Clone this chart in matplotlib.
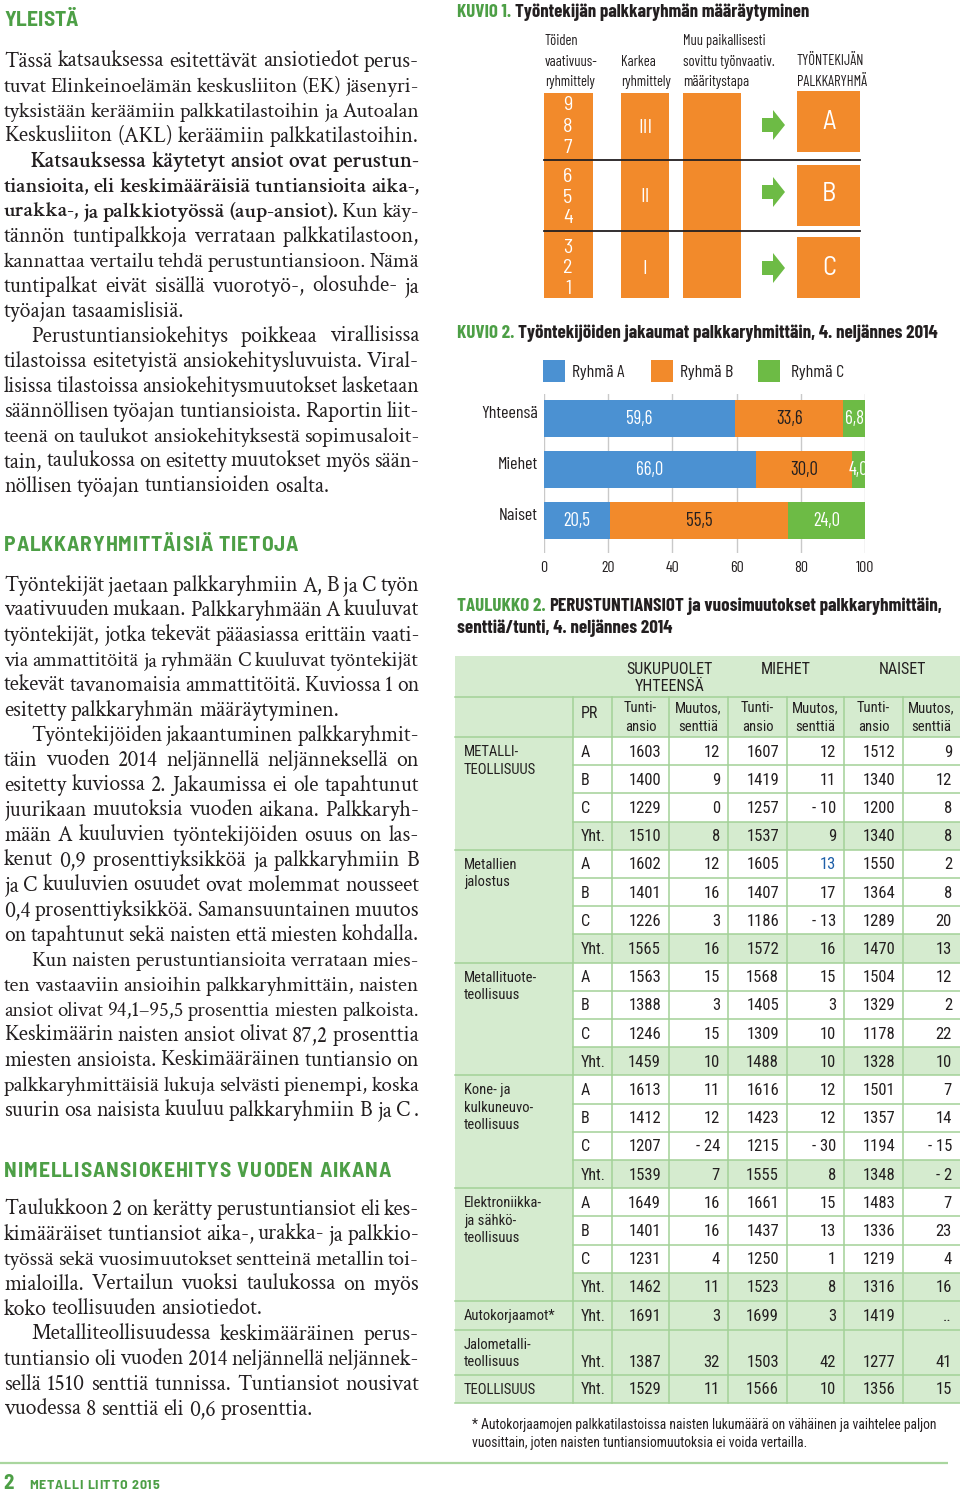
import matplotlib
matplotlib.use("Agg")
import matplotlib.pyplot as plt
from matplotlib.patches import Rectangle, Polygon
from matplotlib.transforms import ScaledTranslation
from matplotlib import font_manager as fm

# ---------------------------------------------------------------- data
kuvio2_categories = ["Yhteensä", "Miehet", "Naiset"]
kuvio2_series = ["Ryhmä A", "Ryhmä B", "Ryhmä C"]
ryhma_a = [59.6, 66.0, 20.5]
ryhma_b = [33.6, 30.0, 55.5]
ryhma_c = [6.8, 4.0, 24.0]
kuvio2_ticks = [0, 20, 40, 60, 80, 100]

vaativuus = [["9", "8", "7"], ["6", "5", "4"], ["3", "2", "1"]]
karkea = ["III", "II", "I"]
palkkaryhma = ["A", "B", "C"]

table_groups = ["METALLI-\nTEOLLISUUS", "Metallien\njalostus", "Metallituote-\nteollisuus",
                "Kone- ja\nkulkuneuvo-\nteollisuus", "Elektroniikka-\nja sähkö-\nteollisuus",
                "Autokorjaamot*", "Jalometalli-\nteollisuus", "TEOLLISUUS"]
table_group_rows = [4, 4, 4, 4, 4, 1, 1, 1]
table_pr = ["A", "B", "C", "Yht."] * 5 + ["Yht.", "Yht.", "Yht."]
tunti_yht = [1603, 1400, 1229, 1510, 1602, 1401, 1226, 1565, 1563, 1388, 1246, 1459,
             1613, 1412, 1207, 1539, 1649, 1401, 1231, 1462, 1691, 1387, 1529]
muutos_yht = [12, 9, 0, 8, 12, 16, 3, 16, 15, 3, 15, 10,
              11, 12, -24, 7, 16, 16, 4, 11, 3, 32, 11]
tunti_miehet = [1607, 1419, 1257, 1537, 1605, 1407, 1186, 1572, 1568, 1405, 1309, 1488,
                1616, 1423, 1215, 1555, 1661, 1437, 1250, 1523, 1699, 1503, 1566]
muutos_miehet = [12, 11, -10, 9, 13, 17, -13, 16, 15, 3, 10, 10,
                 12, 12, -30, 8, 15, 13, 1, 8, 3, 42, 10]
tunti_naiset = [1512, 1340, 1200, 1340, 1550, 1364, 1289, 1470, 1504, 1329, 1178, 1328,
                1501, 1357, 1194, 1348, 1483, 1336, 1219, 1316, 1419, 1277, 1356]
muutos_naiset = [9, 12, 8, 8, 2, 8, 20, 13, 12, 2, 22, 10,
                 7, 14, -15, -2, 7, 23, 4, 16, None, 41, 15]
table_header_top = ["SUKUPUOLET\nYHTEENSÄ", "MIEHET", "NAISET"]
table_header_sub = ["Tunti-\nansio", "Muutos,\nsenttiä"]

# ---------------------------------------------------------------- fonts / colours
_names = {f.name for f in fm.fontManager.ttflist}


def pick(cands):
    for c in cands:
        if c in _names:
            return c
    return "DejaVu Sans"


SERIF = pick(["Crimson Text", "Crimson Pro", "Liberation Serif"])
COND = pick(["Roboto Condensed", "Liberation Sans"])
DIN = pick(["Barlow Condensed", "Roboto Condensed", "Liberation Sans"])
SEMI = pick(["Barlow Semi Condensed", "Barlow Condensed", "Roboto Condensed"])

INK = "#231f20"
GREEN_TXT = "#4d9f46"
BLUE = "#4b91d2"
ORANGE = "#f28a2b"
GREEN = "#6dbb45"
LIGHT = "#d5ebcf"
GRIDG = "#a3d197"

# ---------------------------------------------------------------- page
fig = plt.figure(figsize=(9.6, 14.94), dpi=100)
page = fig.add_axes([0, 0, 1, 1])
page.set_xlim(0, 960)
page.set_ylim(1494, 0)
page.axis("off")
R = fig.canvas.get_renderer()


def T(x, y, s, size, family=COND, weight="normal", color=INK, ha="left", va="baseline", **kw):
    return page.text(x, y, s, fontsize=size, family=family, fontweight=weight,
                     color=color, ha=ha, va=va, **kw)


def W(s, size, family=COND, weight="normal"):
    t = T(0, 0, s, size, family, weight)
    w = t.get_window_extent(R).width
    t.remove()
    return w


def space_w(size, family, weight="normal"):
    return W("n n", size, family, weight) - W("nn", size, family, weight)


def spread(x0, x1, yb, s, size, family, weight, color):
    sp = space_w(size, family, weight)
    ws = [sp if c == " " else W(c, size, family, weight) for c in s]
    extra = (x1 - x0 - sum(ws)) / (len(s) - 1)
    x = x0
    for c, w in zip(s, ws):
        if c != " ":
            T(x, yb, c, size, family, weight, color)
        x += w + extra


def runs(x0, yb, parts, size, family, weight="bold", target=None):
    full = " ".join(p[0] for p in parts)
    if target is not None:
        size = size * target / W(full, size, family, weight)
    sp = space_w(size, family, weight)
    x = x0
    for text, color in parts:
        T(x, yb, text, size, family, weight, color)
        x += W(text, size, family, weight) + sp
    return size


# ---------------------------------------------------------------- left column text
BODY = 15.8
LEFT, RIGHT = 4, 419
INDENT = 27
BOLDW = 600


def measure_words(words, size):
    info = []
    for w in words:
        bold = w.startswith("^")
        w2 = w.lstrip("^")
        info.append((w2, bold, W(w2, size, SERIF, BOLDW if bold else "normal")))
    return info


def body_line(yb, line, justify, indent):
    words = line.split()
    x0 = LEFT + indent
    size = BODY
    info = measure_words(words, size)
    sp = space_w(size, SERIF)
    natural = sum(i[2] for i in info) + (len(words) - 1) * sp * 0.8
    if natural > RIGHT - x0:
        size = size * (RIGHT - x0) / natural
        info = measure_words(words, size)
        sp = space_w(size, SERIF)
    if justify and len(words) > 1:
        gap = (RIGHT - x0 - sum(i[2] for i in info)) / (len(words) - 1)
    else:
        gap = sp
    x = x0
    for w2, bold, wd in info:
        T(x, yb, w2, size, SERIF, BOLDW if bold else "normal", INK)
        x += wd + gap


def paragraph(yb, indent, lines, last_justify=False):
    for i, ln in enumerate(lines):
        last = i == len(lines) - 1
        body_line(yb + 25 * i, ln, (not last) or last_justify, INDENT if (indent and i == 0) else 0)


HEAD = 15.5
spread(4, 78, 26, "YLEISTÄ", HEAD, SEMI, "bold", GREEN_TXT)
paragraph(67, False, [
    "Tässä katsauksessa esitettävät ansiotiedot perus-",
    "tuvat Elinkeinoelämän keskusliiton (EK) jäsenyri-",
    "tyksistään keräämiin palkkatilastoihin ja Autoalan",
    "Keskusliiton (AKL) keräämiin palkkatilastoihin."], True)
paragraph(167, True, [
    "^Katsauksessa ^käytetyt ^ansiot ^ovat ^perustun-",
    "^tiansioita, ^eli ^keskimääräisiä ^tuntiansioita ^aika-,",
    "^urakka-, ^ja ^palkkiotyössä ^(aup-ansiot). Kun käy-",
    "tännön tuntipalkkoja verrataan palkkatilastoon,",
    "kannattaa vertailu tehdä perustuntiansioon. Nämä",
    "tuntipalkat eivät sisällä vuorotyö-, olosuhde- ja",
    "työajan tasaamislisiä."])
paragraph(342, True, [
    "Perustuntiansiokehitys poikkeaa virallisissa",
    "tilastoissa esitetyistä ansiokehitysluvuista. Viral-",
    "lisissa tilastoissa ansiokehitysmuutokset lasketaan",
    "säännöllisen työajan tuntiansioista. Raportin liit-",
    "teenä on taulukot ansiokehityksestä sopimusaloit-",
    "tain, taulukossa on esitetty muutokset myös sään-",
    "nöllisen työajan tuntiansioiden osalta."])

spread(4, 298, 551, "PALKKARYHMITTÄISIÄ TIETOJA", HEAD, SEMI, "bold", GREEN_TXT)
paragraph(591, False, [
    "Työntekijät jaetaan palkkaryhmiin A, B ja C työn",
    "vaativuuden mukaan. Palkkaryhmään A kuuluvat",
    "työntekijät, jotka tekevät pääasiassa erittäin vaati-",
    "via ammattitöitä ja ryhmään C kuuluvat työntekijät",
    "tekevät tavanomaisia ammattitöitä. Kuviossa 1 on",
    "esitetty palkkaryhmän määräytyminen."])
paragraph(741, True, [
    "Työntekijöiden jakaantuminen palkkaryhmit-",
    "täin vuoden 2014 neljännellä neljänneksellä on",
    "esitetty kuviossa 2. Jakaumissa  ei ole tapahtunut",
    "juurikaan muutoksia vuoden aikana. Palkkaryh-",
    "mään A kuuluvien työntekijöiden osuus on las-",
    "kenut 0,9 prosenttiyksikköä ja palkkaryhmiin B",
    "ja C kuuluvien osuudet ovat molemmat nousseet",
    "0,4 prosenttiyksikköä. Samansuuntainen muutos",
    "on tapahtunut sekä naisten että miesten kohdalla."], True)
paragraph(966, True, [
    "Kun naisten perustuntiansioita verrataan mies-",
    "ten vastaaviin ansioihin palkkaryhmittäin, naisten",
    "ansiot olivat 94,1–95,5 prosenttia miesten palkoista.",
    "Keskimäärin naisten ansiot olivat 87,2 prosenttia",
    "miesten ansioista.  Keskimääräinen tuntiansio on",
    "palkkaryhmittäisiä lukuja selvästi pienempi, koska",
    "suurin osa naisista kuuluu palkkaryhmiin B ja C ."], True)

spread(4, 391, 1177, "NIMELLISANSIOKEHITYS VUODEN AIKANA", HEAD, SEMI, "bold", GREEN_TXT)
paragraph(1215, False, [
    "Taulukkoon 2 on kerätty perustuntiansiot eli kes-",
    "kimääräiset tuntiansiot aika-, urakka- ja palkkio-",
    "työssä sekä vuosimuutokset sentteinä metallin toi-",
    "mialoilla.  Vertailun vuoksi taulukossa on myös",
    "koko teollisuuden ansiotiedot."])
paragraph(1340, True, [
    "Metalliteollisuudessa keskimääräinen perus-",
    "tuntiansio oli vuoden 2014 neljännellä neljännek-",
    "sellä 1510 senttiä tunnissa. Tuntiansiot nousivat",
    "vuodessa 8 senttiä eli 0,6 prosenttia."])

# footer
page.plot([0, 948], [1463, 1463], color="#a9d69e", lw=1.6, solid_capstyle="butt")
T(3, 1489, "2", 15, SEMI, "bold", GREEN_TXT)
spread(29, 159, 1489, "METALLI LIITTO 2015", 10, SEMI, "bold", GREEN_TXT)

# ---------------------------------------------------------------- KUVIO 1
runs(457, 17, [("KUVIO 1.", GREEN_TXT), ("Työntekijän palkkaryhmän määräytyminen", INK)],
     12, DIN, "bold", target=352)

HS = 10.5
for yb, s in zip([45, 66, 86], ["Töiden", "vaativuus-", "ryhmittely"]):
    T(545, yb, s, HS, DIN)
for yb, s in zip([66, 86], ["Karkea", "ryhmittely"]):
    T(621, yb, s, HS, DIN)
for yb, s in zip([45, 66, 86], ["Muu paikallisesti", "sovittu työnvaativ.", "määritystapa"]):
    T(683, yb, s, HS, DIN)
for yb, s in zip([65, 86], ["TYÖNTEKIJÄN", "PALKKARYHMÄ"]):
    T(797, yb, s, HS, DIN)

for x0, w in [(544, 49), (621, 48), (683, 58)]:
    page.add_patch(Rectangle((x0, 93), w, 205, facecolor=ORANGE, edgecolor="none", zorder=1))
for y0, h in [(91, 61), (165, 61), (237, 61)]:
    page.add_patch(Rectangle((797, y0), 63, h, facecolor=ORANGE, edgecolor="none", zorder=1))
for yl in [160, 231]:
    page.plot([544, 860], [yl, yl], color=INK, lw=1.3, zorder=2)

digit_base = [[110, 132, 153], [182, 203, 223], [253, 273, 294]]
for grp, bases in zip(vaativuus, digit_base):
    for d, yb in zip(grp, bases):
        T(568, yb, d, 14.5, SEMI, color="white", ha="center", zorder=3)
for s, yb in zip(karkea, [133, 202, 274]):
    T(645, yb, s, 14.5, SEMI, color="white", ha="center", zorder=3)
for s, yb in zip(palkkaryhma, [129, 201, 275]):
    T(829, yb, s, 19, SEMI, color="white", ha="center", zorder=3)
for yc in [125, 192, 268]:
    page.add_patch(Polygon([(762, yc - 7), (773, yc - 7), (773, yc - 15), (785, yc),
                            (773, yc + 15), (773, yc + 7), (762, yc + 7)],
                           closed=True, facecolor=GREEN, edgecolor="none", zorder=2))

# ---------------------------------------------------------------- KUVIO 2
runs(457, 338, [("KUVIO 2.", GREEN_TXT),
                ("Työntekijöiden jakaumat palkkaryhmittäin, 4. neljännes 2014", INK)],
     12, DIN, "bold", target=481)

series_colors = [BLUE, ORANGE, GREEN]
for (x0, tx), name, col in zip([(543, 572), (651, 680), (758, 791)], kuvio2_series, series_colors):
    page.add_patch(Rectangle((x0, 360), 22, 22, facecolor=col, edgecolor="none"))
    T(tx, 377, name, 13, DIN)

ax2 = fig.add_axes([544 / 960, 1 - 553 / 1494, 321 / 960, 159 / 1494])
ypos = list(range(len(kuvio2_categories)))
left = [0.0] * len(ypos)
label_colors = ["white", INK, "white"]
for vals, col, lc in zip([ryhma_a, ryhma_b, ryhma_c], series_colors, label_colors):
    ax2.barh(ypos, vals, left=left, height=0.725, color=col, zorder=2)
    for y, v, l0 in zip(ypos, vals, left):
        ax2.text(l0 + v / 2, y + 0.02, f"{v:.1f}".replace(".", ","), ha="center", va="center",
                 color=lc, fontsize=13.5, family=DIN, zorder=3)
    left = [a + b for a, b in zip(left, vals)]
ax2.set_xlim(0, 100)
ax2.set_ylim(2.64, -0.48)
ax2.set_xticks(kuvio2_ticks)
ax2.set_xticklabels([str(t) for t in kuvio2_ticks], family=DIN, fontsize=11.5, color=INK)
ax2.set_yticks(ypos)
ax2.set_yticklabels(kuvio2_categories, family=DIN, fontsize=13, color=INK)
ax2.tick_params(length=0)
ax2.tick_params(axis="x", pad=5.5)
ax2.tick_params(axis="y", pad=4.5)
for lab in ax2.get_yticklabels():
    lab.set_transform(lab.get_transform() + ScaledTranslation(0, 0.06, fig.dpi_scale_trans))
ax2.grid(axis="x", color="#c9c9c9", lw=1, zorder=0)
ax2.set_axisbelow(True)
for s in ax2.spines.values():
    s.set_visible(False)
ax2.patch.set_alpha(0)

# ---------------------------------------------------------------- TAULUKKO 2
tsize = runs(457, 611, [("TAULUKKO 2.", GREEN_TXT), ("PERUSTUNTIANSIOT", INK),
                        ("ja vuosimuutokset palkkaryhmittäin,", INK)], 12, DIN, "bold", target=485)
T(457, 633, "senttiä/tunti, 4. neljännes 2014", tsize, DIN, "bold")

col_x = [455, 573, 612, 669, 728, 787, 844, 903, 960]
TOP, H1, H2 = 656, 697, 737
ROW_H = 28.2

row_tops, row_heights, row_group = [], [], []
y = H2
for gi, (lab, n) in enumerate(zip(table_groups, table_group_rows)):
    for r in range(n):
        if n == 1:
            h = 45 if "\n" in lab else 28.5
        else:
            h = ROW_H
        row_tops.append(y)
        row_heights.append(h)
        row_group.append(gi)
        y += h
BOTTOM = y

page.add_patch(Rectangle((col_x[0], TOP), col_x[-1] - col_x[0], BOTTOM - TOP,
                         facecolor=LIGHT, edgecolor="none", zorder=1))
for top, h, pr in zip(row_tops, row_heights, table_pr):
    if pr != "Yht.":
        page.add_patch(Rectangle((col_x[1], top), col_x[-1] - col_x[1], h,
                                 facecolor="white", edgecolor="none", zorder=1))

LW = 1.1
page.plot([col_x[0], col_x[-1]], [H1, H1], color=GRIDG, lw=LW, zorder=2)
page.plot([col_x[0], col_x[-1]], [H2, H2], color=GRIDG, lw=LW, zorder=2)
for i, (top, h) in enumerate(zip(row_tops, row_heights)):
    bot = top + h
    last_in_group = (i == len(row_tops) - 1) or (row_group[i + 1] != row_group[i])
    x0 = col_x[0] if last_in_group else col_x[1]
    page.plot([x0, col_x[-1]], [bot, bot], color=GRIDG, lw=LW, zorder=2)
for xv in col_x[1:-1]:
    page.plot([xv, xv], [H1, BOTTOM], color=GRIDG, lw=LW, zorder=2)

TS = 12
for cx, s in zip([670, 786, 902], table_header_top):
    for k, part in enumerate(s.split("\n")):
        T(cx, 674 + 17 * k, part, 11.5, COND, ha="center", zorder=3)
T(581, 718, "PR", 11.5, COND, zorder=3)
for c in range(2, 8):
    cx = (col_x[c] + col_x[c + 1]) / 2
    sub = table_header_sub[(c - 2) % 2]
    for k, part in enumerate(sub.split("\n")):
        T(cx, 712 + 19 * k, part, 10.5, COND, ha="center", zorder=3)

gstart = 0
for gi, (lab, n) in enumerate(zip(table_groups, table_group_rows)):
    top = row_tops[gstart]
    for k, part in enumerate(lab.split("\n")):
        T(464, top + 19 + 17.5 * k, part, 10.5, COND, zorder=3)
    gstart += n


def fmt(v):
    if v is None:
        return ".."
    return f"- {abs(v)}" if v < 0 else str(v)


cols_vals = [tunti_yht, muutos_yht, tunti_miehet, muutos_miehet, tunti_naiset, muutos_naiset]
for i, (top, h, pr) in enumerate(zip(row_tops, row_heights, table_pr)):
    yb = top + h / 2 + 5.5 if h < 40 else top + h - 8
    T(581, yb, pr, 11.5, COND, zorder=3)
    for c, vals in enumerate(cols_vals):
        colr = "#1f5fa8" if (c == 3 and i == 4) else INK
        T(col_x[c + 3] - 8, yb, fmt(vals[i]), TS, COND, color=colr, ha="right", zorder=3)

fsize = 9.0
line1 = "* Autokorjaamojen palkkatilastoissa naisten lukumäärä on vähäinen ja vaihtelee paljon"
fsize = fsize * 470 / W(line1, fsize, COND)
T(472, 1429, line1, fsize, COND)
T(472, 1447, "vuosittain, joten naisten tuntiansiomuutoksia ei voida vertailla.", fsize, COND)

fig.savefig("out.png", dpi=100)
